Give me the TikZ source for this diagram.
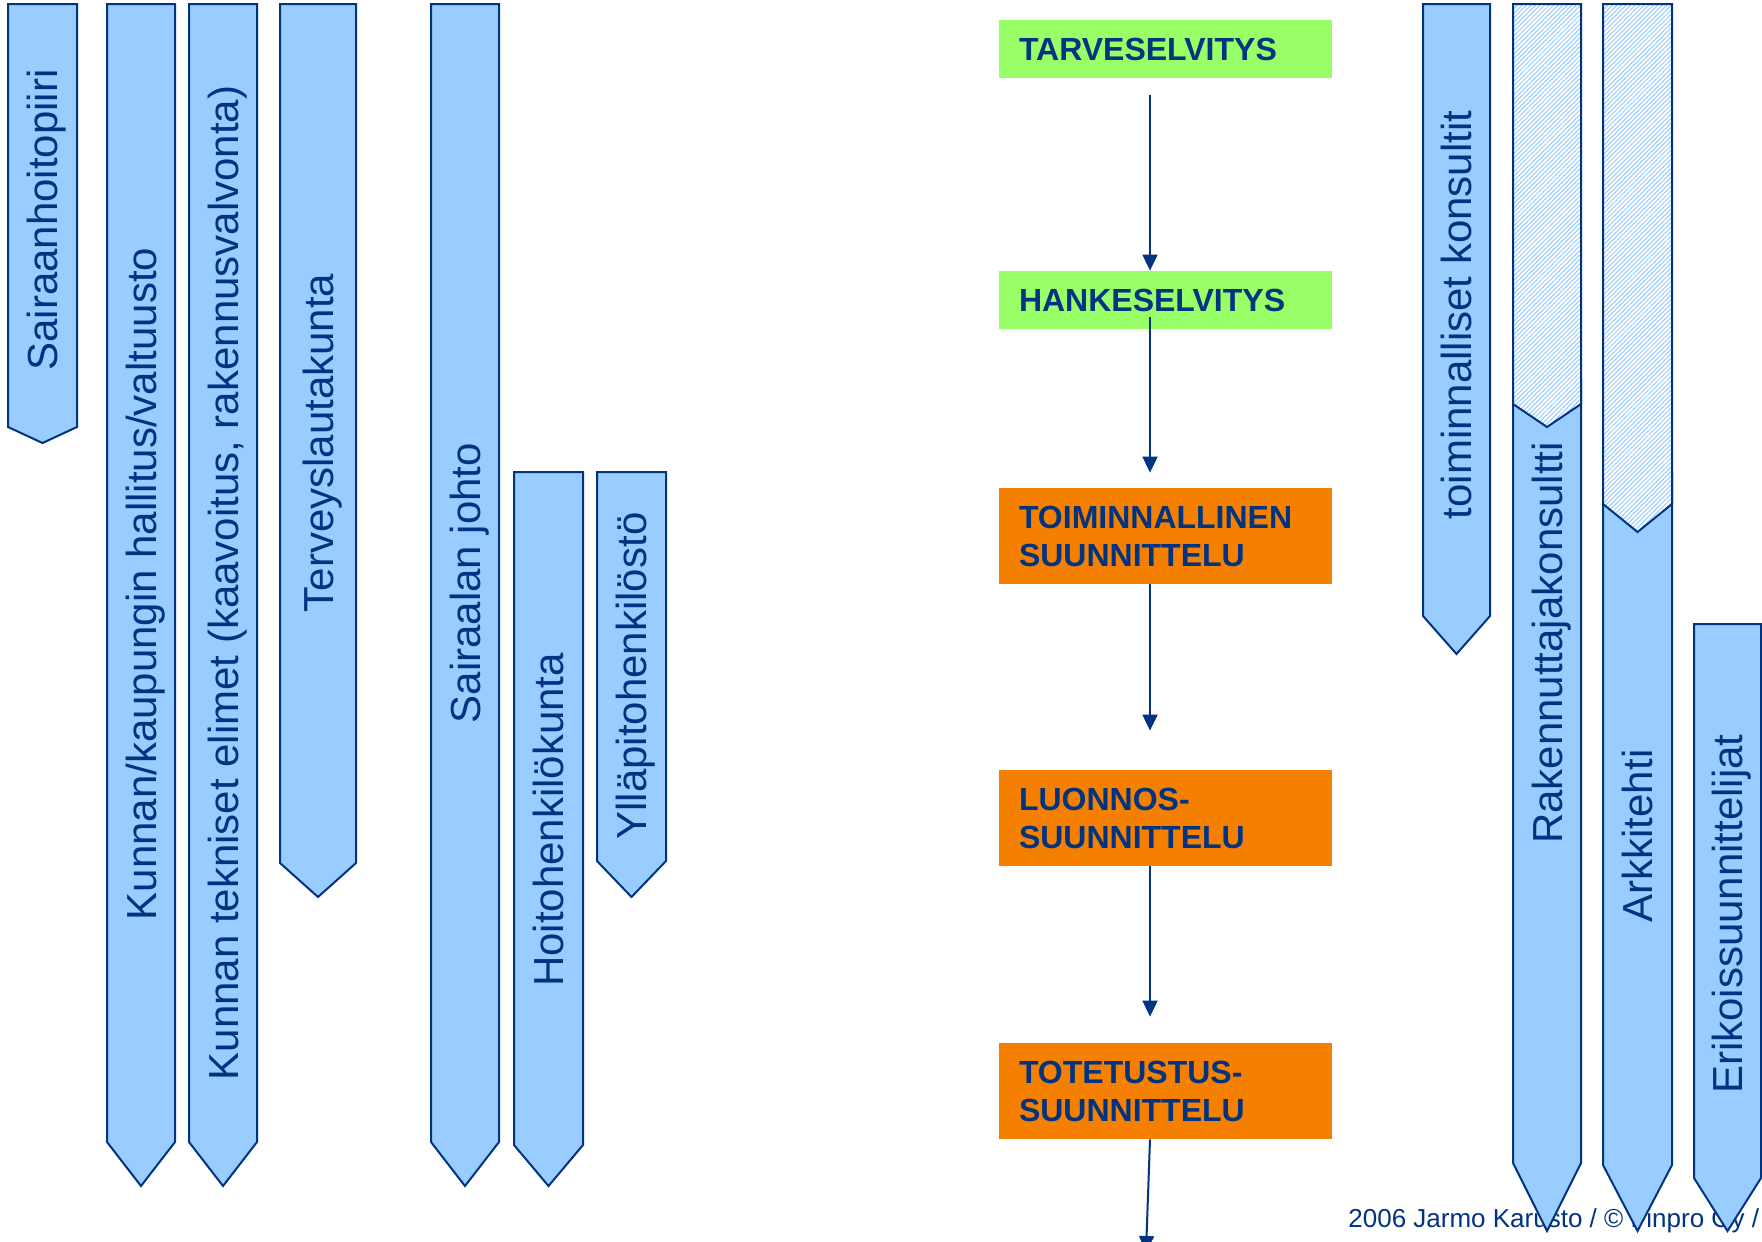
\documentclass[tikz,border=0pt]{standalone}
\usepackage{fontspec}
\setmainfont{Liberation Sans}
\usetikzlibrary{arrows.meta,patterns.meta}
\definecolor{barblue}{RGB}{153,204,255}
\definecolor{navy}{RGB}{0,51,128}
\definecolor{phasegreen}{RGB}{153,255,102}
\definecolor{phaseorange}{RGB}{245,128,0}

\begin{document}
\begin{tikzpicture}[x=0.5pt, y=-0.5pt,
        bar/.style={fill=barblue, draw=navy, line width=1pt},
        hatchbar/.style={draw=navy, line width=1pt, preaction={fill=white},
            pattern={Lines[angle=45,distance=1.6pt,line width=0.5pt]}, pattern color=barblue},
        barlabel/.style={rotate=90, anchor=base, inner sep=0pt, text=navy,
            font=\fontsize{21}{25}\selectfont},
        phase/.style={fill=#1, text=navy, font=\bfseries\fontsize{16}{19}\selectfont,
            text width=146.5pt, inner xsep=10pt, inner ysep=0pt, align=left},
        flow/.style={draw=navy, line width=1pt, -{Triangle[width=7.5pt,length=8pt]}}]
                \useasboundingbox (0,0) rectangle (1762,1242);
                \clip (0,0) rectangle (1762,1242);
                % footer, behind the bars
                \node[anchor=base west, inner sep=0pt, text=navy, font=\fontsize{13}{15}\selectfont]
                    (credit) at (1348,1227) {2006 Jarmo Karusto / © Finpro Oy /};
                % left side bars
                \filldraw[bar] (8,4) -- (77,4) -- (77,427) -- (42.5,443) -- (8,427) -- cycle;
                \filldraw[bar] (107,4) -- (175,4) -- (175,1142) -- (141,1186) -- (107,1142) -- cycle;
                \filldraw[bar] (189,4) -- (257,4) -- (257,1142) -- (223,1186) -- (189,1142) -- cycle;
                \filldraw[bar] (280,4) -- (356,4) -- (356,863) -- (318,897) -- (280,863) -- cycle;
                \filldraw[bar] (431,4) -- (499,4) -- (499,1142) -- (465,1186) -- (431,1142) -- cycle;
                \filldraw[bar] (514,472) -- (583,472) -- (583,1145) -- (548.5,1186) -- (514,1145) -- cycle;
                \filldraw[bar] (597,472) -- (666,472) -- (666,861) -- (631.5,897) -- (597,861) -- cycle;
                \node[barlabel] (piiri) at (57.5,220) {Sairaanhoitopiiri};
                \node[barlabel] (hallitus) at (156,584) {Kunnan/kaupungin hallitus/valtuusto};
                \node[barlabel] (tekniset) at (238,583) {Kunnan tekniset elimet (kaavoitus, rakennusvalvonta)};
                \node[barlabel] (lautakunta) at (333,443) {Terveyslautakunta};
                \node[barlabel] (johto) at (480,583) {Sairaalan johto};
                \node[barlabel] (hoito) at (563.5,820) {Hoitohenkilökunta};
                \node[barlabel] (yllapito) at (646.5,676) {Ylläpitohenkilöstö};
                % right side bars
                \filldraw[bar] (1423,4) -- (1490,4) -- (1490,616) -- (1456.5,654) -- (1423,616) -- cycle;
                \filldraw[bar] (1513,380) -- (1581,380) -- (1581,1163) -- (1547,1231) -- (1513,1163) -- cycle;
                \filldraw[hatchbar] (1513,4) -- (1581,4) -- (1581,404) -- (1547,427) -- (1513,404) -- cycle;
                \filldraw[bar] (1603,472) -- (1672,472) -- (1672,1165) -- (1637.5,1231) -- (1603,1165) -- cycle;
                \filldraw[hatchbar] (1603,4) -- (1672,4) -- (1672,504) -- (1637.5,532) -- (1603,504) -- cycle;
                \filldraw[bar] (1694,624) -- (1761,624) -- (1761,1178) -- (1727.5,1231) -- (1694,1178) -- cycle;
                \node[barlabel] (konsultit) at (1471.5,315) {toiminnalliset konsultit};
                \node[barlabel] (rakennuttaja) at (1562,643) {Rakennuttajakonsultti};
                \node[barlabel] (arkkitehti) at (1652.5,836) {Arkkitehti};
                \node[barlabel] (erikois) at (1742.5,914) {Erikoissuunnittelijat};
                % phases
                \node[phase=phasegreen, minimum height=29pt] (tarve) at (1165.5,49) {TARVESELVITYS};
                \node[phase=phasegreen, minimum height=29pt] (hanke) at (1165.5,300) {HANKESELVITYS};
                \node[phase=phaseorange, minimum height=48pt] (toimi) at (1165.5,536) {TOIMINNALLINEN\\SUUNNITTELU};
                \node[phase=phaseorange, minimum height=48pt] (luonnos) at (1165.5,818) {LUONNOS-\\SUUNNITTELU};
                \node[phase=phaseorange, minimum height=48pt] (toteutus) at (1165.5,1091) {TOTETUSTUS-\\SUUNNITTELU};
                % flow
                \coordinate (a1) at (1150,95);
                \coordinate (a2) at (1150,317);
                \coordinate (a5) at (1146,1252);
                \draw[flow] (a1) -- (a1 |- hanke.north);
                \draw[flow, shorten >=7.5pt] (a2) -- (a2 |- toimi.north);
                \draw[flow, shorten >=19.5pt] (a1 |- toimi.south) -- (a1 |- luonnos.north);
                \draw[flow, shorten >=13pt] (a1 |- luonnos.south) -- (a1 |- toteutus.north);
                \draw[flow] (a1 |- toteutus.south) -- (a5);
            \end{tikzpicture}
\end{document}
